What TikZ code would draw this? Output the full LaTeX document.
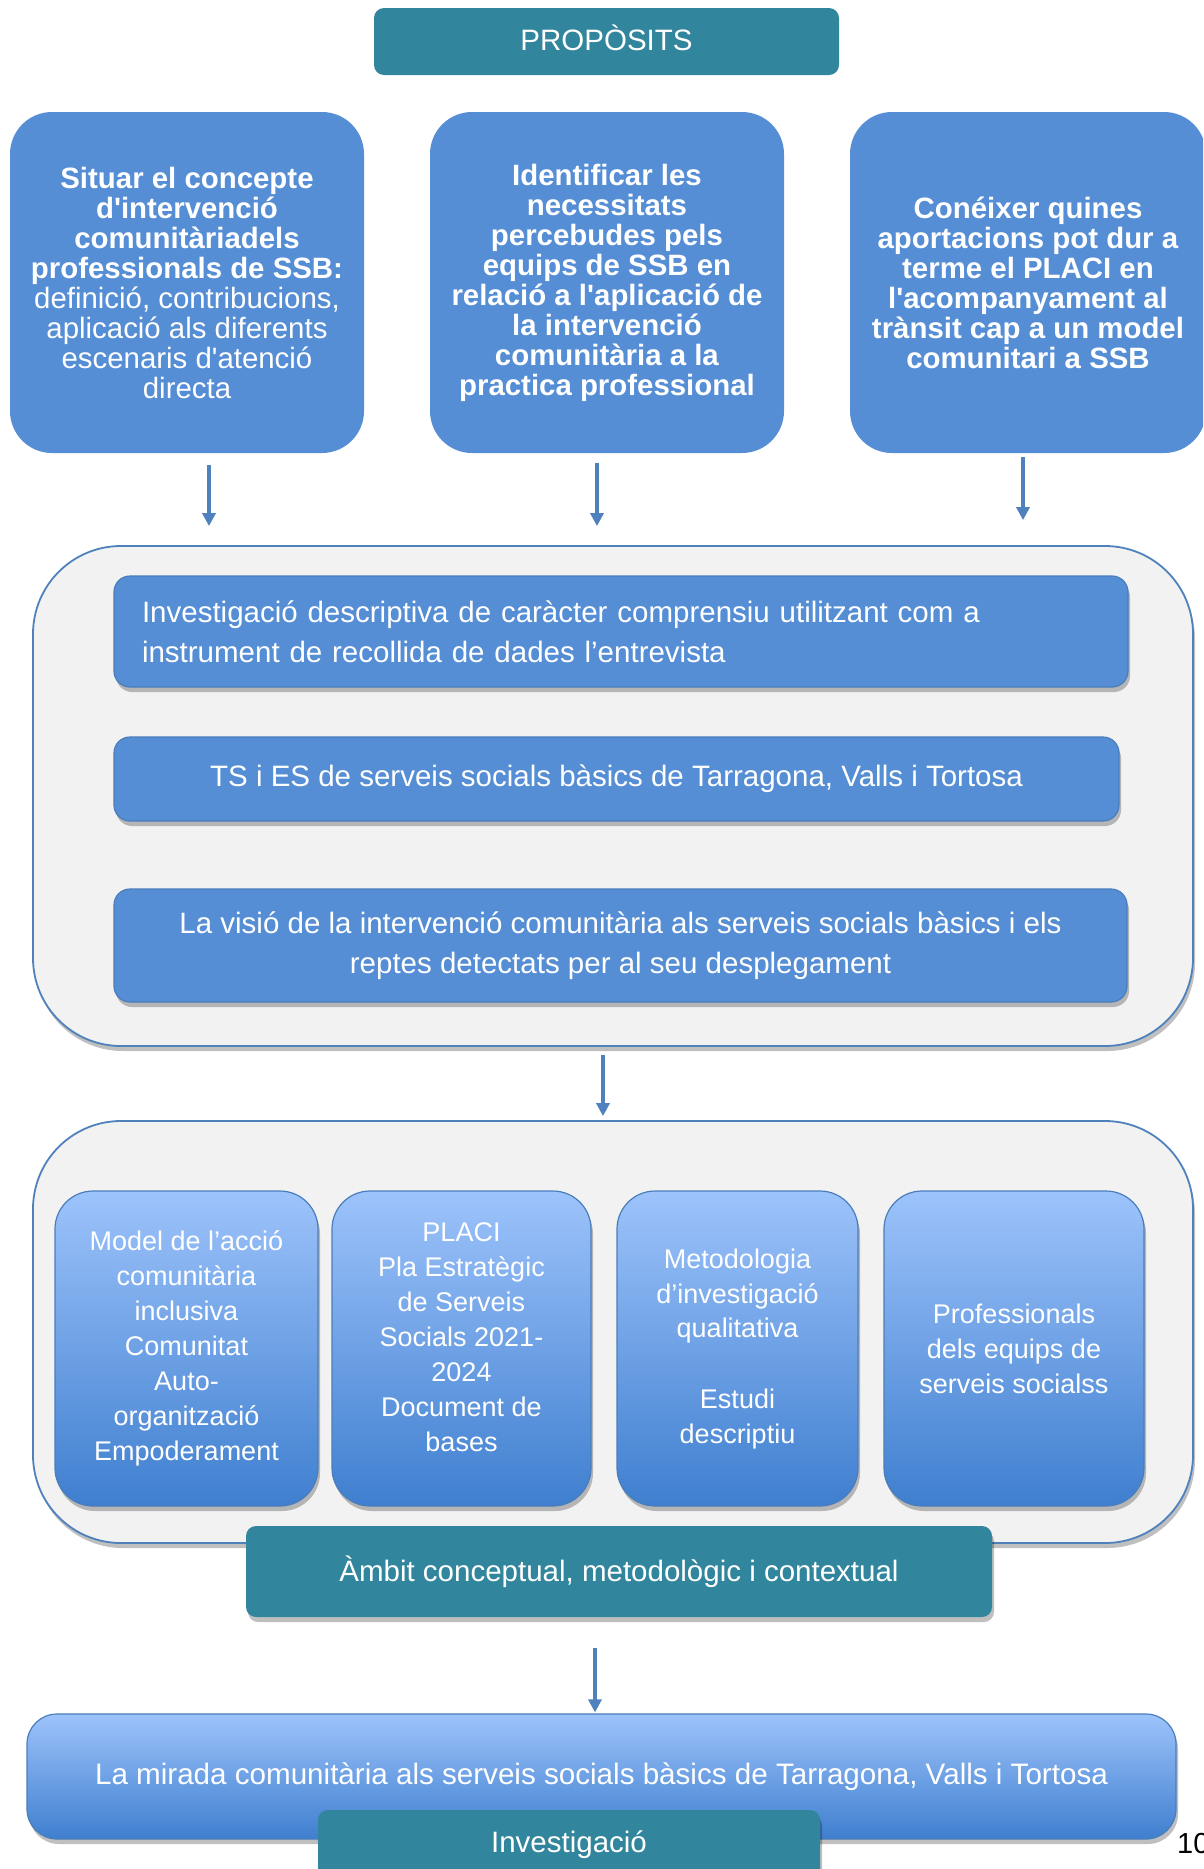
\documentclass[tikz,border=0pt]{standalone}
\usepackage{fontspec}
\setmainfont{Liberation Sans}[Ligatures=TeXOff]
\usetikzlibrary{shadows,arrows.meta}
\definecolor{tealbox}{HTML}{31859C}
\definecolor{boxblue}{HTML}{558ED5}
\definecolor{edgeblue}{HTML}{4A7EBB}
\definecolor{arrblue}{HTML}{4F81BD}
\definecolor{panel}{HTML}{F2F2F2}
\definecolor{gradtop}{HTML}{9DC3FB}
\definecolor{gradbot}{HTML}{3F7FCF}
\tikzset{
  shad/.style={drop shadow={shadow xshift=2pt,shadow yshift=-5pt,opacity=0.25,fill=black}},
  tealbox/.style={rectangle,rounded corners=10pt,fill=tealbox,text=white,inner sep=0pt,
    font=\fontsize{29.5}{30}\selectfont},
  topbox/.style={rectangle,rounded corners=42pt,fill=boxblue,text=white,inner sep=0pt,
    minimum width=354pt,minimum height=341pt,align=center,font=\fontsize{29.4}{30}\selectfont},
  panelbox/.style={rectangle,rounded corners=88pt,fill=panel,draw=arrblue,line width=1.8pt,
    inner sep=0pt,shad},
  innerbox/.style={rectangle,rounded corners=16pt,fill=boxblue,draw=edgeblue,line width=1.2pt,
    text=white,inner sep=0pt,align=center,font=\fontsize{29.5}{40}\selectfont,shad},
  gradbox/.style={rectangle,rounded corners=38pt,top color=gradtop,bottom color=gradbot,
    draw=edgeblue,line width=1.2pt,text=white,inner sep=0pt,align=center,
    font=\fontsize{27}{35}\selectfont,shad},
  arr/.style={draw=arrblue,line width=3.5pt,-{Triangle[width=13pt,length=13pt]}},
}
\begin{document}
\begin{tikzpicture}[x=1pt,y=-1pt]
\useasboundingbox (0,0) rectangle (1203,1869);
\clip (0,0) rectangle (1203,1869);

% title
\node[tealbox,minimum width=465pt,minimum height=67pt,text depth=7pt] (prop) at (606.5,41.5) {PROPÒSITS};

% purpose boxes
\node[topbox] (b1) at (187,282.5) {\textbf{Situar el concepte}\\\textbf{d'intervenció}\\\textbf{comunitàriadels}\\\textbf{professionals de SSB:}\\definició, contribucions,\\aplicació als diferents\\escenaris d'atenció\\directa};
\node[topbox] (b2) at (607,282.5) {\textbf{Identificar les}\\\textbf{necessitats}\\\textbf{percebudes pels}\\\textbf{equips de SSB en}\\\textbf{relació a l'aplicació de}\\\textbf{la intervenció}\\\textbf{comunitària a la}\\\textbf{practica professional}};
\node[topbox,minimum width=356pt] (b3) at (1028,282.5) {\textbf{Conéixer quines}\\\textbf{aportacions pot dur a}\\\textbf{terme el PLACI en}\\\textbf{l'acompanyament al}\\\textbf{trànsit cap a un model}\\\textbf{comunitari a SSB}};

% first panel
\node[panelbox,minimum width=1160pt,minimum height=500pt] (c1) at (613,796) {};
\node[innerbox,align=left,text width=958pt,inner xsep=28pt,minimum height=111pt] (i1) at (621,631.5)
  {Investigació descriptiva de caràcter comprensiu utilitzant com a\\instrument de recollida de dades l’entrevista};
\node[innerbox,minimum width=1005pt,minimum height=84pt] (i2) at (616.5,779)
  {TS i ES de serveis socials bàsics de Tarragona, Valls i Tortosa};
\node[innerbox,minimum width=1013pt,minimum height=113pt] (i3) at (620.5,945.5)
  {La visió de la intervenció comunitària als serveis socials bàsics i els\\reptes detectats per al seu desplegament};

% second panel
\node[panelbox,minimum width=1160pt,minimum height=422pt] (c2) at (613,1332) {};
\node[gradbox,minimum width=263pt,minimum height=315pt] (g1) at (186.5,1348.5)
  {Model de l’acció\\comunitària\\inclusiva\\Comunitat\\Auto-\\organització\\Empoderament};
\node[gradbox,minimum width=259pt,minimum height=315pt] (g2) at (461.5,1348.5)
  {PLACI\\Pla Estratègic\\de Serveis\\Socials 2021-\\2024\\Document de\\bases\\[-13pt]};
\node[gradbox,minimum width=241pt,minimum height=315pt] (g3) at (737.5,1348.5)
  {Metodologia\\d’investigació\\qualitativa\\~\\Estudi\\descriptiu};
\node[gradbox,minimum width=260pt,minimum height=315pt] (g4) at (1014,1348.5)
  {Professionals\\dels equips de\\serveis socialss};
\node[tealbox,minimum width=746pt,minimum height=91pt,shad] (amb) at (619,1571.5)
  {Àmbit conceptual, metodològic i contextual};

% result
\node[gradbox,font=\fontsize{29.6}{30}\selectfont,rounded corners=30pt,minimum width=1149pt,minimum height=125pt] (res) at (601.5,1776.5)
  {La mirada comunitària als serveis socials bàsics de Tarragona, Valls i Tortosa};
\node[tealbox,minimum width=502pt,minimum height=70pt,shad] (inv) at (569,1845)
  {Investigació};
\node[anchor=west,inner sep=0pt,text=black,font=\fontsize{29}{30}\selectfont] (pg) at (1177,1843) {10};

% arrows
\draw[arr] ([xshift=22pt,yshift=-12pt]b1.south) -- ([xshift=22pt,yshift=19pt]b1.south |- c1.north);
\draw[arr] ([xshift=-10pt,yshift=-10pt]b2.south) -- ([xshift=-10pt,yshift=19pt]b2.south |- c1.north);
\draw[arr] ([xshift=-5pt,yshift=-4pt]b3.south) -- ([xshift=-5pt,yshift=25pt]b3.south |- c1.north);
\draw[arr] ([xshift=-10pt,yshift=-8pt]c1.south) -- ([xshift=-10pt,yshift=4pt]c2.north);
\draw[arr] ([xshift=-24pt,yshift=-31pt]amb.south) -- ([xshift=-24pt,yshift=1pt]amb.south |- res.north);
\end{tikzpicture}
\end{document}
